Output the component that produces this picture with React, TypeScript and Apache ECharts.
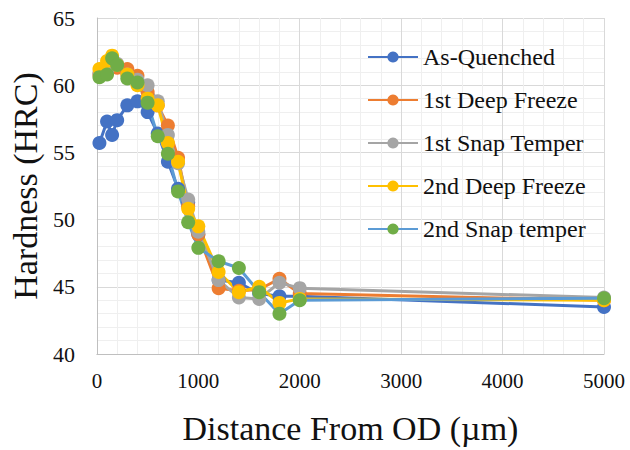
import React, { useEffect, useRef } from "react";
import * as echarts from "echarts";

const distances = [25, 100, 150, 200, 300, 400, 500, 600, 700, 800, 900, 1000, 1200, 1400, 1600, 1800, 2000, 5000];

const asQuenched = [55.7, 57.3, 56.3, 57.4, 58.5, 58.8, 58.0, 56.4, 54.3, 52.3, 51.3, 48.9, 45.5, 45.3, 44.5, 44.3, 44.3, 43.5];
const deepFreeze1 = [60.8, 61.4, 62.0, 61.3, 61.2, 60.7, 59.5, 58.5, 57.0, 54.6, 51.0, 48.9, 44.9, 44.7, 44.8, 45.6, 44.5, 44.0];
const snapTemper1 = [60.9, 61.0, 61.8, 61.6, 60.8, 60.4, 60.0, 58.8, 56.3, 54.2, 51.5, 49.1, 45.5, 44.2, 44.1, 45.3, 44.9, 44.2];
const deepFreeze2 = [61.2, 61.8, 62.2, 61.5, 60.8, 60.0, 59.0, 58.5, 55.7, 54.3, 50.8, 49.5, 46.1, 44.6, 45.0, 43.8, 44.1, 44.0];
const snapTemper2 = [60.6, 60.8, 62.0, 61.5, 60.5, 60.2, 58.7, 56.2, 54.9, 52.1, 49.8, 47.9, 46.9, 46.4, 44.6, 43.0, 44.0, 44.15];

const seriesNames = ["As-Quenched", "1st Deep Freeze", "1st Snap Temper", "2nd Deep Freeze", "2nd Snap temper"];
const seriesData = [asQuenched, deepFreeze1, snapTemper1, deepFreeze2, snapTemper2];
const lineColors = ["#4472C4", "#ED7D31", "#A5A5A5", "#FFC000", "#5B9BD5"];
const markerColors = ["#4472C4", "#ED7D31", "#A5A5A5", "#FFC000", "#70AD47"];

const FONT = "Liberation Serif";

export default function App() {
  const ref = useRef<HTMLDivElement>(null);
  useEffect(() => {
    if (!ref.current) return;
    const chart = echarts.init(ref.current, undefined, { renderer: "svg" });
    chart.setOption({
      animation: false,
      backgroundColor: "#ffffff",
      textStyle: { fontFamily: FONT },
      grid: { left: 94, right: 26, top: 18, bottom: 92, containLabel: false },
      legend: {
        orient: "vertical",
        left: 362,
        top: 38,
        itemWidth: 50,
        itemHeight: 14,
        itemGap: 15,
        textStyle: { fontFamily: FONT, fontSize: 24, color: "#111", lineHeight: 28 },
        data: seriesNames,
      },
      xAxis: {
        type: "value",
        min: 0,
        max: 5000,
        interval: 1000,
        name: "Distance From OD (\u00b5m)",
        nameLocation: "middle",
        nameGap: 57,
        nameTextStyle: { fontFamily: FONT, fontSize: 34, color: "#111" },
        axisLine: { show: true, lineStyle: { color: "#BFBFBF", width: 1 } },
        axisTick: { show: false },
        axisLabel: { fontFamily: FONT, fontSize: 21, color: "#111", margin: 16, formatter: (v: number) => String(v) },
        splitLine: { show: true, lineStyle: { color: "#D9D9D9", width: 1 } },
        minorTick: { show: false, splitNumber: 5 },
        minorSplitLine: { show: true, lineStyle: { color: "#EFEFEF", width: 1 } },
      },
      yAxis: {
        type: "value",
        min: 40,
        max: 65,
        interval: 5,
        name: "Hardness (HRC)",
        nameLocation: "middle",
        nameGap: 51,
        nameTextStyle: { fontFamily: FONT, fontSize: 34, color: "#111" },
        axisLine: { show: true, lineStyle: { color: "#BFBFBF", width: 1 } },
        axisTick: { show: false },
        axisLabel: { fontFamily: FONT, fontSize: 22, color: "#111", margin: 22 },
        splitLine: { show: true, lineStyle: { color: "#D9D9D9", width: 1 } },
        minorTick: { show: false, splitNumber: 5 },
        minorSplitLine: { show: true, lineStyle: { color: "#EFEFEF", width: 1 } },
      },
      series: seriesNames.map((name, i) => ({
        name,
        type: "line",
        data: distances.map((d, j) => [d, seriesData[i][j]]),
        symbol: "circle",
        symbolSize: 14,
        lineStyle: { color: lineColors[i], width: 3 },
        itemStyle: { color: markerColors[i] },
        color: markerColors[i],
      })),
    });
    return () => chart.dispose();
  }, []);
  return <div ref={ref} style={{ position: "fixed", left: 0, top: 0, width: 630, height: 450 }} />;
}
